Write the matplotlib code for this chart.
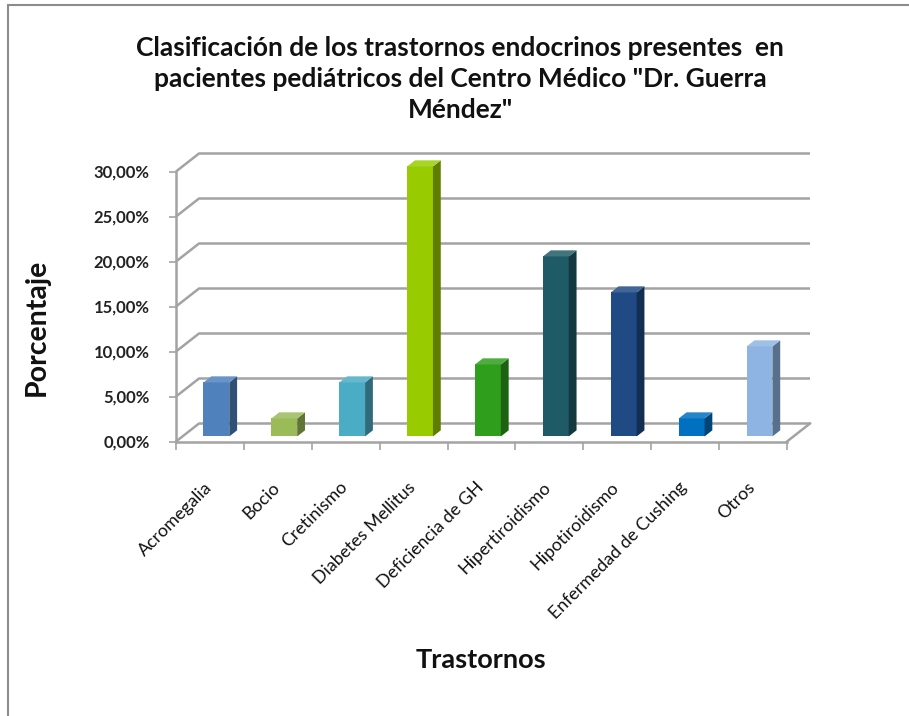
import matplotlib
matplotlib.use("Agg")
import matplotlib.pyplot as plt
from matplotlib.patches import Polygon, Rectangle
from matplotlib.transforms import ScaledTranslation
import matplotlib.colors as mcolors

categories = ["Acromegalia", "Bocio", "Cretinismo", "Diabetes Mellitus",
              "Deficiencia de GH", "Hipertiroidismo", "Hipotiroidismo",
              "Enfermedad de Cushing", "Otros"]
values = [6, 2, 6, 30, 8, 20, 16, 2, 10]
bar_colors = ["#4F81BD", "#9BBB59", "#4BACC6", "#99CC00", "#2E9E1C",
              "#1F5B66", "#1F4A84", "#0070C0", "#8DB4E2"]
yticks = [0, 5, 10, 15, 20, 25, 30]
ytick_labels = ["0,00%", "5,00%", "10,00%", "15,00%", "20,00%", "25,00%", "30,00%"]

title = 'Clasificación de los trastornos endocrinos presentes  en\npacientes pediátricos del Centro Médico "Dr. Guerra\nMéndez"'
xlabel = "Trastornos"
ylabel = "Porcentaje"

W, H = 909, 716
fig = plt.figure(figsize=(W / 100, H / 100), dpi=100)
fig.patch.set_facecolor("white")
font = "Lato"

# chart border (cropped Excel chart)
fig.add_artist(Rectangle((8 / W, -0.1), 1.2, 1 - 5 / H + 0.1, transform=fig.transFigure,
                         fill=False, edgecolor="#8c8c8c", linewidth=1.5))

# front plane of the plot area
x0p, x1p, y0p, y1p = 176, 787, 441.5, 171.5
ax = fig.add_axes([x0p / W, 1 - y0p / H, (x1p - x0p) / W, (y0p - y1p) / H])
n = len(categories)
ax.set_xlim(0, n)
ax.set_ylim(0, 30)
ax.patch.set_alpha(0)

# depth offsets in data units
dx = 23 / ((x1p - x0p) / n)
dy = 18 / ((y0p - y1p) / 30)

grid_col = "#a3a3a3"
for v in yticks:
    ax.plot([0, dx, n + dx], [v, v + dy, v + dy], color=grid_col, lw=1.8,
            clip_on=False, zorder=1, solid_capstyle="butt")
ax.plot([n, n + dx], [0, dy], color=grid_col, lw=1.8, clip_on=False, zorder=1)

for s in ["top", "right"]:
    ax.spines[s].set_visible(False)
for s in ["left", "bottom"]:
    ax.spines[s].set_color(grid_col)
    ax.spines[s].set_linewidth(1.8)
    ax.spines[s].set_zorder(2)

ax.set_yticks(yticks)
ax.set_yticklabels(ytick_labels, fontfamily=font, fontweight="bold", fontsize=12,
                   color="#222222")
ax.tick_params(axis="y", length=5, width=1.2, color=grid_col, pad=14)
ax.set_xticks(range(n + 1))
ax.set_xticklabels([])
ax.tick_params(axis="x", which="major", length=6, width=1.2, color=grid_col)
ax.set_xticks([i + 0.5 for i in range(n)], minor=True)
ax.set_xticklabels(categories, minor=True, rotation=45, ha="right", va="top",
                   fontfamily=font, fontsize=12.8, color="#111111")
ax.tick_params(axis="x", which="minor", length=0, pad=27)
for lab in ax.get_xticklabels(minor=True):
    lab.set_transform(lab.get_transform() + ScaledTranslation(0.05, 0, fig.dpi_scale_trans))

# 3D-ish bars
bw = 0.38
f0, t = 0.28, 0.34
for i, (v, c) in enumerate(zip(values, bar_colors)):
    bx = i + (1 - bw) / 2 + f0 * dx
    by = f0 * dy
    rgb = mcolors.to_rgb(c)
    dark = tuple(k * 0.62 for k in rgb)
    light = tuple(min(1, k * 0.85 + 0.15) for k in rgb)
    ax.add_patch(Rectangle((bx, by), bw, v, facecolor=c, edgecolor="none", zorder=3,
                           clip_on=False))
    ax.add_patch(Polygon([(bx + bw, by), (bx + bw + t * dx, by + t * dy),
                          (bx + bw + t * dx, by + t * dy + v), (bx + bw, by + v)],
                         closed=True, facecolor=dark, edgecolor="none", zorder=3,
                         clip_on=False))
    ax.add_patch(Polygon([(bx, by + v), (bx + bw, by + v),
                          (bx + bw + t * dx, by + v + t * dy), (bx + t * dx, by + v + t * dy)],
                         closed=True, facecolor=light, edgecolor="none", zorder=3,
                         clip_on=False))

fig.text(460 / W, 1 - 79 / H, title, ha="center", va="center", fontfamily=font,
         fontweight="bold", fontsize=19, linespacing=1.37, color="#111111")
fig.text(37 / W, 1 - 327 / H, ylabel, ha="center", va="center", rotation=90,
         fontfamily=font, fontweight="bold", fontsize=20.5, color="#111111")
fig.text(481 / W, 1 - 660 / H, xlabel, ha="center", va="center", fontfamily=font,
         fontweight="bold", fontsize=19.5, color="#111111")

fig.savefig("out.png", dpi=100, facecolor="white")
